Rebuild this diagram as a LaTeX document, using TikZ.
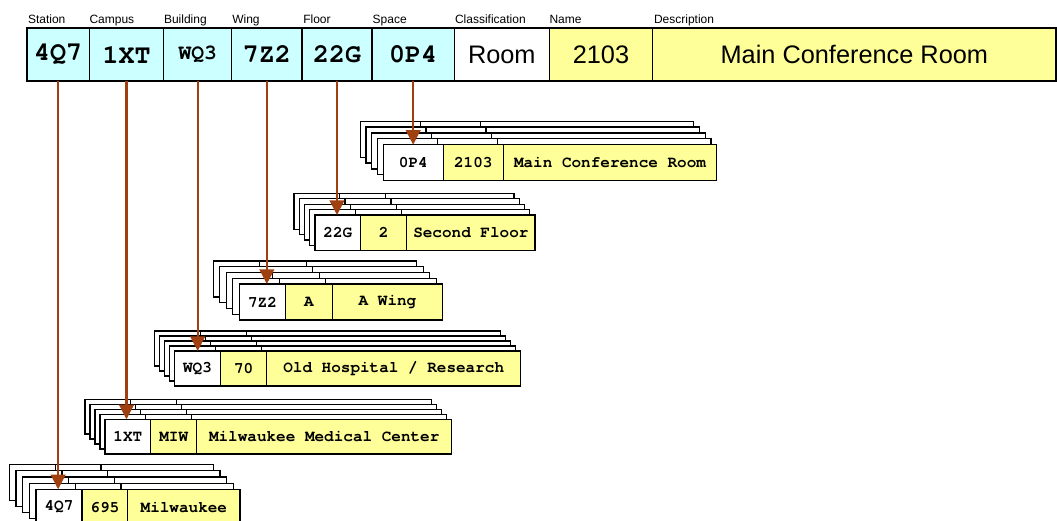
\documentclass[tikz,border=0pt]{standalone}
\usepackage{fontspec}
\setmainfont{Liberation Sans}
\newfontfamily\cour{texgyrecursor}[Extension=.otf, UprightFont=*-regular, BoldFont=*-bold]
\usetikzlibrary{arrows.meta}
\definecolor{cyanc}{RGB}{204,255,255}
\definecolor{yelc}{RGB}{255,255,153}
\definecolor{arrc}{RGB}{160,64,16}
\tikzset{
  x=0.75pt, y=-0.75pt,
  base/.style={draw=black, inner sep=0pt, outer sep=0pt, anchor=center},
  hcode/.style={base, line width=1.1pt, fill=cyanc, font=\cour\bfseries\fontsize{20}{24}\selectfont},
  hcodes/.style={hcode, font=\cour\bfseries\fontsize{16}{19}\selectfont},
  htext/.style={base, line width=1.1pt, font=\fontsize{19}{23}\selectfont},
  rcell/.style={base, line width=0.9pt, font=\cour\bfseries\fontsize{12}{14}\selectfont},
  backl/.style={draw=black, fill=white, line width=0.9pt},
  lab/.style={inner sep=0pt, outer sep=0pt, anchor=base west, font=\fontsize{9}{11}\selectfont},
  arr/.style={draw=arrc, line width=1.6pt, -{Triangle[length=11pt,width=11pt]}},
}
\newcommand\mycell[7]{%
  \node[#6, minimum width={((#4)-(#2))*0.75pt}, minimum height={((#5)-(#3))*0.75pt}]
    (#1) at ({((#2)+(#4))/2},{((#3)+(#5))/2}) {#7};}
\newcommand\backs[8]{%
  \foreach \k in {4,3,2,1}{
    \begin{scope}[shift={(-\k*#7,-\k*#8)}]
      \draw[backl] (#1,#2) rectangle (#3,#6);
      \draw[backl] (#3,#2) rectangle (#4,#6);
      \draw[backl] (#4,#2) rectangle (#5,#6);
    \end{scope}}}
\begin{document}
\begin{tikzpicture}
\useasboundingbox (0,0) rectangle (1057,521);
% header labels
\node[lab] (lS)  at (28,23)    {Station};
\node[lab] (lC)  at (89.5,23)  {Campus};
\node[lab] (lB)  at (164,23)   {Building};
\node[lab] (lW)  at (232.3,23) {Wing};
\node[lab] (lF)  at (303.3,23) {Floor};
\node[lab] (lSp) at (372.7,23) {Space};
\node[lab] (lCl) at (455,23)   {Classification};
\node[lab] (lN)  at (549.5,23) {Name};
\node[lab] (lD)  at (654,23)   {Description};
% header cells
\mycell{hS}{27}{28}{89.3}{81}{hcode}{4Q7}
\mycell{hC}{89.3}{28}{163.7}{81}{hcode}{1XT}
\mycell{hB}{163.7}{28}{231.7}{81}{hcodes}{WQ3}
\mycell{hW}{231.7}{28}{302}{81}{hcode}{7Z2}
\mycell{hF}{302}{28}{372}{81}{hcode}{22G}
\mycell{hSp}{372}{28}{454.3}{81}{hcode}{0P4}
\mycell{hCl}{454.3}{28}{549.3}{81}{htext, fill=white}{Room}
\mycell{hN}{549.3}{28}{652.7}{81}{htext, fill=yelc}{2103}
\mycell{hD}{652.7}{28}{1056}{81}{htext, fill=yelc}{Main Conference Room}
% stack: Space
\backs{383.3}{144.7}{443.3}{503.3}{716.7}{180.7}{5.8}{5.9}
\mycell{sa}{383.3}{144.7}{443.3}{180.7}{rcell, fill=white}{0P4}
\mycell{sb}{443.3}{144.7}{503.3}{180.7}{rcell, fill=yelc}{2103}
\mycell{sc}{503.3}{144.7}{716.7}{180.7}{rcell, fill=yelc}{Main Conference Room}
% stack: Floor
\backs{315}{215}{360.7}{406.7}{535}{250.7}{5.25}{5.4}
\mycell{fa}{315}{215}{360.7}{250.7}{rcell, fill=white}{22G}
\mycell{fb}{360.7}{215}{406.7}{250.7}{rcell, fill=yelc}{2}
\mycell{fc}{406.7}{215}{535}{250.7}{rcell, fill=yelc}{Second Floor}
% stack: Wing
\backs{239.3}{284}{285.7}{332.3}{442.7}{320}{6.5}{5.75}
\mycell{wa}{239.3}{284}{285.7}{320}{rcell, fill=white}{7Z2}
\mycell{wb}{285.7}{284}{332.3}{320}{rcell, fill=yelc}{A}
\mycell{wc}{332.3}{284}{442.7}{320}{rcell, fill=yelc}{A Wing}
% stack: Building
\backs{174.3}{351}{220.7}{266.7}{520.7}{386}{5}{5}
\mycell{ba}{174.3}{351}{220.7}{386}{rcell, fill=white}{WQ3}
\mycell{bb}{220.7}{351}{266.7}{386}{rcell, fill=yelc}{70}
\mycell{bc}{266.7}{351}{520.7}{386}{rcell, fill=yelc}{Old Hospital / Research}
% stack: Campus
\backs{105}{419.3}{150.7}{196.7}{451.7}{454}{5}{5}
\mycell{ca}{105}{419.3}{150.7}{454}{rcell, fill=white}{1XT}
\mycell{cb}{150.7}{419.3}{196.7}{454}{rcell, fill=yelc}{MIW}
\mycell{cc}{196.7}{419.3}{451.7}{454}{rcell, fill=yelc}{Milwaukee Medical Center}
% stack: Station
\backs{36}{489.3}{82}{127.7}{240}{525}{6.7}{6.2}
\mycell{ta}{36}{489.3}{82}{525}{rcell, fill=white}{4Q7}
\mycell{tb}{82}{489.3}{127.7}{525}{rcell, fill=yelc}{695}
\mycell{tc}{127.7}{489.3}{240}{525}{rcell, fill=yelc}{Milwaukee}
% arrows
\draw[arr] (hS.south)  -- (hS.south |- ta.north);
\draw[arr] (hC.south)  -- (hC.south |- ca.north);
\draw[arr] (hB.south)  -- (hB.south |- ba.north);
\draw[arr] (hW.south)  -- (hW.south |- wa.north);
\draw[arr] (hF.south)  -- (hF.south |- fa.north);
\draw[arr] (hSp.south) -- (hSp.south |- sa.north);
\end{tikzpicture}
\end{document}
